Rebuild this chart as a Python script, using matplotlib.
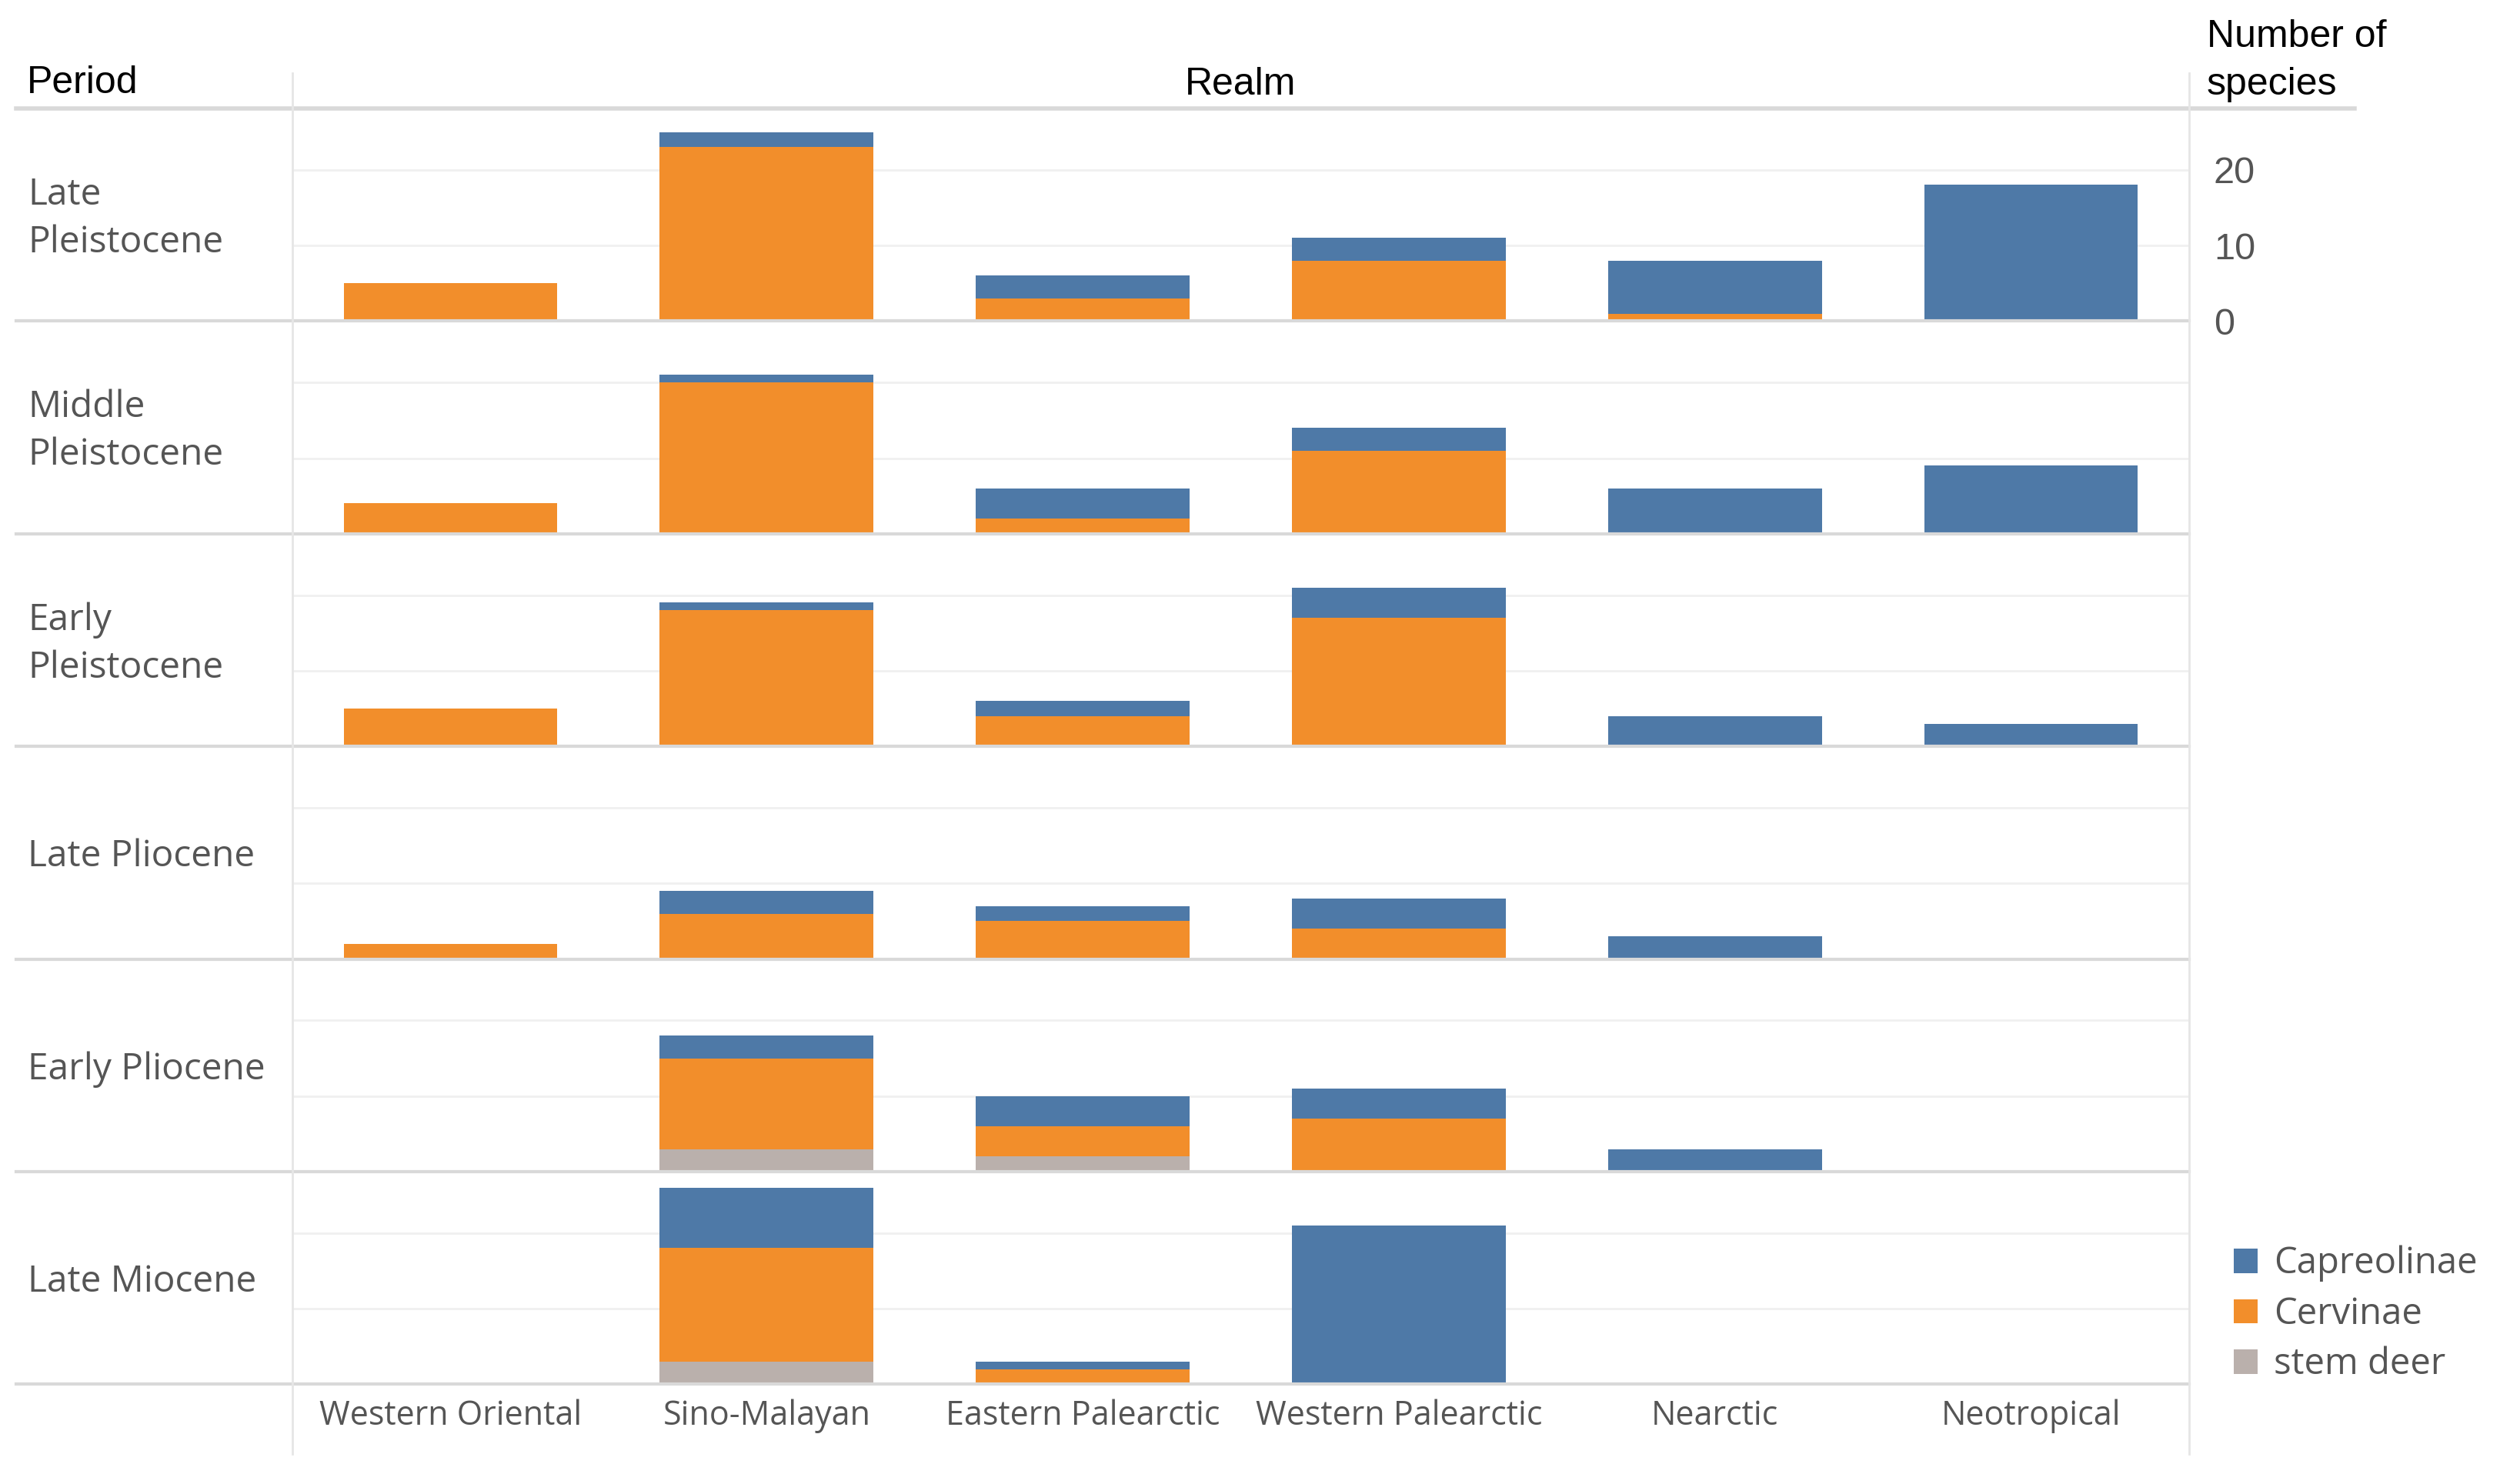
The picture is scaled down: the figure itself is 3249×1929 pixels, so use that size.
import matplotlib
matplotlib.use("Agg")
import matplotlib.pyplot as plt
from matplotlib.lines import Line2D

# --- Data ---
periods = ["Late\nPleistocene", "Middle\nPleistocene", "Early\nPleistocene",
           "Late Pliocene", "Early Pliocene", "Late Miocene"]
realms = ["Western Oriental", "Sino-Malayan", "Eastern Palearctic",
          "Western Palearctic", "Nearctic", "Neotropical"]

capreolinae = [
    [0, 2, 3, 3, 7, 18],
    [0, 1, 4, 3, 6, 9],
    [0, 1, 2, 4, 4, 3],
    [0, 3, 2, 4, 3, 0],
    [0, 3, 4, 4, 3, 0],
    [0, 8, 1, 21, 0, 0],
]
cervinae = [
    [5, 23, 3, 8, 1, 0],
    [4, 20, 2, 11, 0, 0],
    [5, 18, 4, 17, 0, 0],
    [2, 6, 5, 4, 0, 0],
    [0, 12, 4, 7, 0, 0],
    [0, 15, 2, 0, 0, 0],
]
stem_deer = [
    [0, 0, 0, 0, 0, 0],
    [0, 0, 0, 0, 0, 0],
    [0, 0, 0, 0, 0, 0],
    [0, 0, 0, 0, 0, 0],
    [0, 3, 2, 0, 0, 0],
    [0, 3, 0, 0, 0, 0],
]
y_ticks = [0, 10, 20]

BLUE, ORANGE, GREY = "#4e79a7", "#f28e2b", "#bab0ac"
TXT = "#555555"
LINE = "#d9d9d9"
W, H = 3249, 1929

LABEL_FONT = ["Open Sans", "DejaVu Sans"]
HEAD_FONT = ["Liberation Sans", "DejaVu Sans"]

fig = plt.figure(figsize=(W / 100, H / 100), dpi=100)

def fx(px):
    return px / W

def fy(py):
    return 1 - py / H

left, right = 380, 2845
top0, step = 141.0, 276.4
ymax = step / 9.83

xs = list(range(len(realms)))
handles = None
for i, period in enumerate(periods):
    top = top0 + i * step
    ax = fig.add_axes([fx(left), fy(top + step), fx(right) - fx(left), step / H])
    ax.set_xlim(-0.5, len(realms) - 0.5)
    ax.set_ylim(0, ymax)
    for s in ax.spines.values():
        s.set_visible(False)
    ax.set_xticks([])
    ax.set_yticks(y_ticks)
    ax.yaxis.grid(True, color="#f0f0f0", linewidth=2)
    ax.set_axisbelow(True)
    if i == 0:
        ax.yaxis.tick_right()
        ax.tick_params(axis="y", length=0, pad=23, labelsize=35, labelcolor=TXT)
        for lab in ax.get_yticklabels():
            lab.set_fontfamily(HEAD_FONT)
    else:
        ax.tick_params(axis="y", length=0, labelleft=False, labelright=False)

    b1 = ax.bar(xs, stem_deer[i], width=0.676, color=GREY, linewidth=0)
    b2 = ax.bar(xs, cervinae[i], width=0.676, bottom=stem_deer[i], color=ORANGE, linewidth=0)
    bottoms = [a + b for a, b in zip(stem_deer[i], cervinae[i])]
    b3 = ax.bar(xs, capreolinae[i], width=0.676, bottom=bottoms, color=BLUE, linewidth=0)
    if handles is None:
        handles = [b3, b2, b1]

    # period label, vertically centred in row
    fig.text(fx(36), fy(top + step / 2 + 5), period, ha="left", va="center",
             fontsize=34.5, color=TXT, family=LABEL_FONT, linespacing=1.4)
    # row separator
    fig.add_artist(Line2D([fx(21), fx(right)], [fy(top + step)] * 2,
                          color=LINE, linewidth=3))

# realm labels under the last row
for j, realm in enumerate(realms):
    cx = left + (j + 0.5) * (right - left) / len(realms)
    fig.text(fx(cx), fy(1841), realm, ha="center", va="center",
             fontsize=31, color=TXT, family=LABEL_FONT)

# header line and vertical dividers
fig.add_artist(Line2D([fx(21), fx(3060)], [fy(141)] * 2, color=LINE, linewidth=4))
fig.add_artist(Line2D([fx(left)] * 2, [fy(95), fy(1890)], color="#e6e6e6", linewidth=2))
fig.add_artist(Line2D([fx(right)] * 2, [fy(95), fy(1890)], color="#e6e6e6", linewidth=2))

fig.text(fx(35), fy(108), "Period", ha="left", va="center", fontsize=36,
         color="black", family=HEAD_FONT)
fig.text(fx((left + right) / 2), fy(110), "Realm", ha="center", va="center",
         fontsize=36, color="black", family=HEAD_FONT)
fig.text(fx(2868), fy(48), "Number of", ha="left", va="center",
         fontsize=36, color="black", family=HEAD_FONT)
fig.text(fx(2868), fy(110), "species", ha="left", va="center",
         fontsize=36, color="black", family=HEAD_FONT)

fig.legend(handles, ["Capreolinae", "Cervinae", "stem deer"],
           loc="upper left", bbox_to_anchor=(fx(2903), fy(1619)),
           frameon=False, prop={"family": LABEL_FONT, "size": 34},
           labelcolor=TXT, handlelength=0.65, handleheight=0.65,
           handletextpad=0.45, labelspacing=0.38, borderaxespad=0,
           borderpad=0)

fig.savefig("out.png", dpi=100)
